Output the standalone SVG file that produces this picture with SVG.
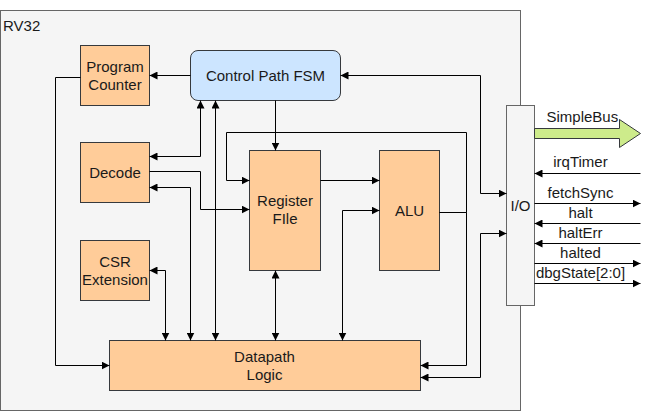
<svg xmlns="http://www.w3.org/2000/svg" width="649" height="412" viewBox="0 0 649 412">
<style>
.box{fill:#ffcc99;stroke:#36393d;stroke-width:1}
.gray{fill:#f5f5f5;stroke:#666666;stroke-width:1}
.t{font-family:"Liberation Sans",Arial,sans-serif;font-size:15px;fill:#1a1a1a}
.m{text-anchor:middle}
.e{fill:none;stroke:#000;stroke-width:1}
</style>
<defs>
<marker id="a" viewBox="0 0 8 8" refX="8" refY="4" markerWidth="8" markerHeight="8" markerUnits="userSpaceOnUse" orient="auto-start-reverse">
<path d="M0,0 L8,4 L0,8 z" fill="#000"/>
</marker>
</defs>
<rect width="649" height="412" fill="#ffffff"/>
<g id="rv32">
<rect class="gray" x="0.5" y="10.5" width="520" height="400"/>
<text class="t" x="3" y="30.5" fill="#333">RV32</text>
</g>
<g id="pc">
<rect class="box" x="80.5" y="45.5" width="69" height="60"/>
<text class="t m" x="115" y="71.5">Program</text>
<text class="t m" x="115" y="89.5">Counter</text>
</g>
<g id="decode">
<rect class="box" x="80.5" y="142.5" width="69" height="60"/>
<text class="t m" x="115" y="177.5">Decode</text>
</g>
<g id="csr">
<rect class="box" x="80.5" y="240.5" width="69" height="60"/>
<text class="t m" x="115" y="266.5">CSR</text>
<text class="t m" x="115" y="284.5">Extension</text>
</g>
<g id="fsm">
<rect x="190.5" y="50.5" width="150" height="50" rx="7.5" ry="7.5" fill="#cce5ff" stroke="#36393d"/>
<text class="t m" x="265.5" y="81">Control Path FSM</text>
</g>
<g id="regfile">
<rect class="box" x="249.5" y="150.5" width="71" height="120"/>
<text class="t m" x="285" y="206">Register</text>
<text class="t m" x="285" y="223.5">FIle</text>
</g>
<g id="alu">
<rect class="box" x="379.5" y="150.5" width="60" height="120"/>
<text class="t m" x="409.5" y="215.5">ALU</text>
</g>
<g id="datapath">
<rect class="box" x="109.5" y="340.5" width="311" height="50"/>
<text class="t m" x="264.5" y="361.5">Datapath</text>
<text class="t m" x="264.5" y="379.5">Logic</text>
</g>
<g id="io">
<rect class="gray" x="506.5" y="105.5" width="28" height="200"/>
<text class="t m" x="520.5" y="210.5" fill="#333">I/O</text>
</g>
<g id="simplebus">
<path d="M534.5,128.5 H619.5 V119.5 L640.5,133.5 L619.5,147.5 V138.5 H534.5 Z" fill="#cdeb8b" stroke="#36393d"/>
<text class="t" x="546.5" y="121.5">SimpleBus</text>
</g>
<g id="connectors">
<path class="e" d="M190.5,75.5 H149.5" marker-end="url(#a)"/>
<path class="e" d="M340.5,75.5 H480.5 V193.5 H506.5" marker-start="url(#a)" marker-end="url(#a)"/>
<path class="e" d="M275.5,100.5 V150.5" marker-end="url(#a)"/>
<path class="e" d="M200.5,100.5 V156.5 H149.5" marker-start="url(#a)" marker-end="url(#a)"/>
<path class="e" d="M215.5,100.5 V340.5" marker-start="url(#a)" marker-end="url(#a)"/>
<path class="e" d="M149.5,171.5 H200.5 V209.5 H249.5" marker-end="url(#a)"/>
<path class="e" d="M149.5,187.5 H190.5 V340.5" marker-start="url(#a)" marker-end="url(#a)"/>
<path class="e" d="M149.5,270.5 H165.5 V340.5" marker-start="url(#a)" marker-end="url(#a)"/>
<path class="e" d="M275.5,270.5 V340.5" marker-start="url(#a)" marker-end="url(#a)"/>
<path class="e" d="M80.5,77.5 H55.5 V365.5 H109.5" marker-end="url(#a)"/>
<path class="e" d="M439.5,212.5 H466.5 V132.5 H226.5 V180.5 H249.5" marker-end="url(#a)"/>
<path class="e" d="M439.5,212.5 H466.5 V365.5 H420.5" marker-end="url(#a)"/>
<path class="e" d="M320.5,180.5 H379.5" marker-end="url(#a)"/>
<path class="e" d="M379.5,210.5 H342.5 V340.5" marker-start="url(#a)" marker-end="url(#a)"/>
<path class="e" d="M506.5,233.5 H480.5 V377.5 H420.5" marker-start="url(#a)" marker-end="url(#a)"/>
<path class="e" d="M640.5,173.5 H534.5" marker-end="url(#a)"/>
<path class="e" d="M534.5,203.5 H640.5" marker-end="url(#a)"/>
<path class="e" d="M640.5,223.5 H534.5" marker-end="url(#a)"/>
<path class="e" d="M640.5,243.5 H534.5" marker-end="url(#a)"/>
<path class="e" d="M534.5,263.5 H640.5" marker-end="url(#a)"/>
<path class="e" d="M534.5,283.5 H640.5" marker-end="url(#a)"/>
<text class="t m" x="580.5" y="167">irqTimer</text>
<text class="t m" x="580.5" y="197.5">fetchSync</text>
<text class="t m" x="580.5" y="218">halt</text>
<text class="t m" x="580.5" y="238">haltErr</text>
<text class="t m" x="580.5" y="258">halted</text>
<text class="t m" x="580.5" y="278">dbgState[2:0]</text>
</g>
</svg>
